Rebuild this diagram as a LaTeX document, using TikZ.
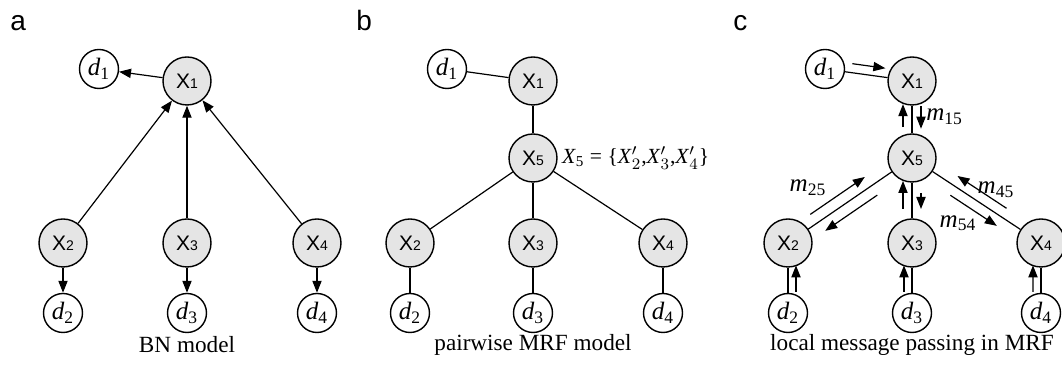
\documentclass[tikz,border=0pt]{standalone}
\usepackage{fontspec}
\setmainfont{Liberation Serif}
\setsansfont{Liberation Sans}
\usetikzlibrary{positioning,calc,arrows.meta}
\tikzset{
  var/.style     = {circle, draw, line width=0.7pt, fill=black!10, minimum size=24pt, inner sep=0, font=\sffamily\fontsize{10.5}{12}\selectfont},
  dato/.style    = {circle, draw, line width=0.7pt, fill=white, minimum size=19.5pt, inner sep=0, font=\fontsize{12.5}{14}\selectfont},
  link/.style    = {line width=0.6pt},
  freccia/.style = {link, -{Triangle[length=6pt,width=4.6pt]}},
  et/.style      = {font=\fontsize{10.8}{13}\selectfont},
  didasc/.style  = {font=\fontsize{11.6}{14}\selectfont},
  msgt/.style    = {font=\fontsize{12.5}{14}\selectfont},
  lettera/.style = {font=\sffamily\fontsize{14}{16}\selectfont, anchor=base west, inner sep=0}
}
\newcommand{\xv}[1]{X{\fontsize{7}{8}\selectfont #1}}
\newcommand{\vsub}[2]{\textit{#1}\textsubscript{#2}}

\begin{document}
\begin{tikzpicture}[x=0.5pt, y=-0.5pt]
  \useasboundingbox (0,0) rectangle (1062,368);

  % pannello a
  \node[lettera] (la) at (10,31) {a};
  \node[var]  (a1)  at (187,81)  {\xv1};
  \node[dato] (ad1) at (99,69)   {\vsub{d}{1}};
  \node[var]  (a2)  at (63,243)  {\xv2};
  \node[var]  (a3)  at (187,243) {\xv3};
  \node[var]  (a4)  at (317,243) {\xv4};
  \node[dato] (ad2) at (63,313)  {\vsub{d}{2}};
  \node[dato] (ad3) at (187,313) {\vsub{d}{3}};
  \node[dato] (ad4) at (317,313) {\vsub{d}{4}};
  \draw[freccia] (a1) -- (ad1);
  \draw[freccia] (a2) -- (a1);
  \draw[freccia] (a3) -- (a1);
  \draw[freccia] (a4) -- (a1);
  \draw[freccia] (a2) -- (ad2);
  \draw[freccia] (a3) -- (ad3);
  \draw[freccia] (a4) -- (ad4);
  \node[didasc] (ca) at (187,345) {BN model};

  % pannello b
  \node[lettera] (lb) at (356,31) {b};
  \node[var]  (b1)  at (533,81)  {\xv1};
  \node[dato] (bd1) at (447,69)  {\vsub{d}{1}};
  \node[var]  (b5)  at (533,158) {\xv5};
  \node[var]  (b2)  at (410,243) {\xv2};
  \node[var]  (b3)  at (533,243) {\xv3};
  \node[var]  (b4)  at (663,243) {\xv4};
  \node[dato] (bd2) at (410,313) {\vsub{d}{2}};
  \node[dato] (bd3) at (533,313) {\vsub{d}{3}};
  \node[dato] (bd4) at (663,313) {\vsub{d}{4}};
  \draw[link] (bd1) -- (b1);
  \draw[link] (b1) -- (b5);
  \draw[link] (b5) -- (b2);
  \draw[link] (b5) -- (b3);
  \draw[link] (b5) -- (b4);
  \draw[link] (b2) -- (bd2);
  \draw[link] (b3) -- (bd3);
  \draw[link] (b4) -- (bd4);
  \node[et, right=1pt of b5, inner sep=1pt] (x5) {\vsub{X}{5} = \{\textit{X}$'_2$,\textit{X}$'_3$,\textit{X}$'_4$\}};
  \node[didasc] (cb) at (533,345) {pairwise MRF model};

  % pannello c
  \node[lettera] (lc) at (733,31) {c};
  \node[var]  (c1)  at (912,81)   {\xv1};
  \node[dato] (cd1) at (825,69)   {\vsub{d}{1}};
  \node[var]  (c5)  at (912,158)  {\xv5};
  \node[var]  (c2)  at (788,243)  {\xv2};
  \node[var]  (c3)  at (912,243)  {\xv3};
  \node[var]  (c4)  at (1041,243) {\xv4};
  \node[dato] (cd2) at (788,313)  {\vsub{d}{2}};
  \node[dato] (cd3) at (912,313)  {\vsub{d}{3}};
  \node[dato] (cd4) at (1041,313) {\vsub{d}{4}};
  \draw[link] (cd1) -- (c1);
  \draw[link] (c1) -- (c5);
  \draw[link] (c5) -- (c2);
  \draw[link] (c5) -- (c3);
  \draw[link] (c5) -- (c4);
  \draw[link] (c2) -- (cd2);
  \draw[link] (c3) -- (cd3);
  \draw[link] (c4) -- (cd4);

  % messaggi
  \draw[freccia] ($(cd1)!0.3!(c1)!4.5pt!90:(c1)$) -- ($(cd1)!0.68!(c1)!4.5pt!90:(c1)$);
  \draw[freccia] ($(c1)!0.6!(c5)!4.5pt!-90:(c5)$) -- ($(c1)!0.3!(c5)!4.5pt!-90:(c5)$);
  \draw[freccia] ($(c1)!0.33!(c5)!4.5pt!90:(c5)$) -- ($(c1)!0.62!(c5)!4.5pt!90:(c5)$);
  \draw[freccia] ($(c5)!0.77!(c2)!5.5pt!-90:(c2)$) -- ($(c5)!0.33!(c2)!5.5pt!-90:(c2)$);
  \draw[freccia] ($(c5)!0.33!(c2)!5.5pt!90:(c2)$) -- ($(c5)!0.75!(c2)!5.5pt!90:(c2)$);
  \draw[freccia] ($(c5)!0.6!(c3)!4.5pt!-90:(c3)$) -- ($(c5)!0.27!(c3)!4.5pt!-90:(c3)$);
  \draw[freccia] ($(c5)!0.41!(c3)!4.5pt!90:(c3)$) -- ($(c5)!0.6!(c3)!4.5pt!90:(c3)$);
  \draw[freccia] ($(c5)!0.69!(c4)!5pt!90:(c4)$) -- ($(c5)!0.31!(c4)!5pt!90:(c4)$);
  \draw[freccia] ($(c5)!0.34!(c4)!5pt!-90:(c4)$) -- ($(c5)!0.7!(c4)!5pt!-90:(c4)$);
  \draw[freccia] ($(cd2)!0.3!(c2)!4pt!-90:(c2)$) -- ($(cd2)!0.68!(c2)!4pt!-90:(c2)$);
  \draw[freccia] ($(cd3)!0.3!(c3)!4pt!90:(c3)$) -- ($(cd3)!0.68!(c3)!4pt!90:(c3)$);
  \draw[freccia] ($(cd4)!0.3!(c4)!4pt!90:(c4)$) -- ($(cd4)!0.68!(c4)!4pt!90:(c4)$);
  \node[msgt, anchor=west, inner sep=0] (m15) at (926,117) {\vsub{m}{15}};
  \node[msgt] (m25) at (808,188) {\vsub{m}{25}};
  \node[msgt] (m45) at (996,190) {\vsub{m}{45}};
  \node[msgt] (m54) at (958,223) {\vsub{m}{54}};
  \node[didasc] (cc) at (912,345) {local message passing in MRF};

\end{tikzpicture}
\end{document}
